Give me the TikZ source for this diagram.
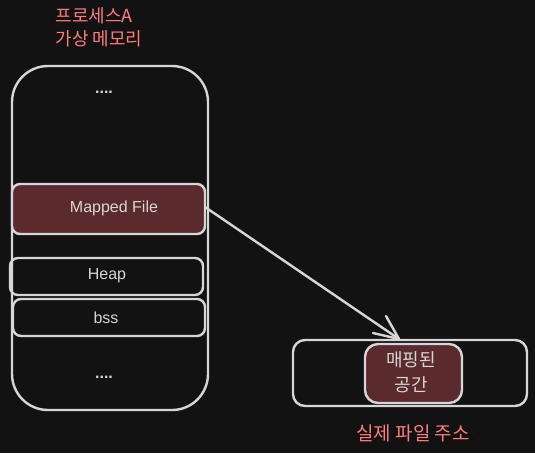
\documentclass[tikz,border=0pt]{standalone}
\usepackage{fontspec}
\setmainfont{Liberation Sans}
\newfontfamily\kr{Noto Sans CJK KR}
\definecolor{bg}{HTML}{121212}
\definecolor{ln}{HTML}{D6D6D6}
\definecolor{redtxt}{HTML}{FF7B7B}
\definecolor{mfill}{HTML}{5A2A2C}
\tikzset{
  box/.style={draw=ln, line width=2.4pt, inner sep=0pt},
  conn/.style={draw=ln, line width=2.4pt, line cap=round, line join=round},
  lbl/.style={text=ln, font=\fontsize{16}{18}\selectfont},
  dots/.style={text=ln, font=\bfseries\fontsize{16}{18}\selectfont},
  krlbl/.style={text=ln, font=\kr\fontsize{18}{25}\selectfont, align=center},
  title/.style={text=redtxt, font=\kr\fontsize{18}{23}\selectfont, align=left},
}
\begin{document}
\begin{tikzpicture}[x=1pt,y=-1pt]
\fill[bg] (0,0) rectangle (535,453);
\useasboundingbox (0,0) rectangle (535,453);
% outer memory box
\draw[box, rounded corners=36pt] (12,66) rectangle (208,410);
\node[dots] (dtop) at (104,92) {....};
\node[dots] (dbot) at (104,377) {....};
% Mapped file
\draw[box, fill=mfill, rounded corners=8pt] (12,184) rectangle (205,234);
\node[lbl] (mf) at (114,208) {Mapped File};
\coordinate (mfr) at (205,207);
% Heap
\draw[box, rounded corners=8pt] (10,258) rectangle (203,295);
\node[lbl] (heap) at (107,276) {Heap};
% bss
\draw[box, rounded corners=8pt] (13,299) rectangle (205,336);
\node[lbl] (bss) at (106,318) {bss};
% right file box
\draw[box, rounded corners=12pt] (293,340) rectangle (527,406);
\draw[box, fill=mfill, rounded corners=13pt] (365,344) rectangle (462,403);
\node[krlbl] (ms) at (411,372) {매핑된\\공간};
\coordinate (arr) at (399,339);
\draw[conn] (mfr) -- (arr);
\draw[conn] (arr) -- ++(-13,-23);
\draw[conn] (arr) -- ++(-26,-6);
% titles
\node[title, anchor=north west] (t1) at (52,4) {프로세스A\\가상 메모리};
\node[text=redtxt, font=\kr\fontsize{19}{22}\selectfont] (t2) at (413,433) {실제 파일 주소};
\end{tikzpicture}
\end{document}
